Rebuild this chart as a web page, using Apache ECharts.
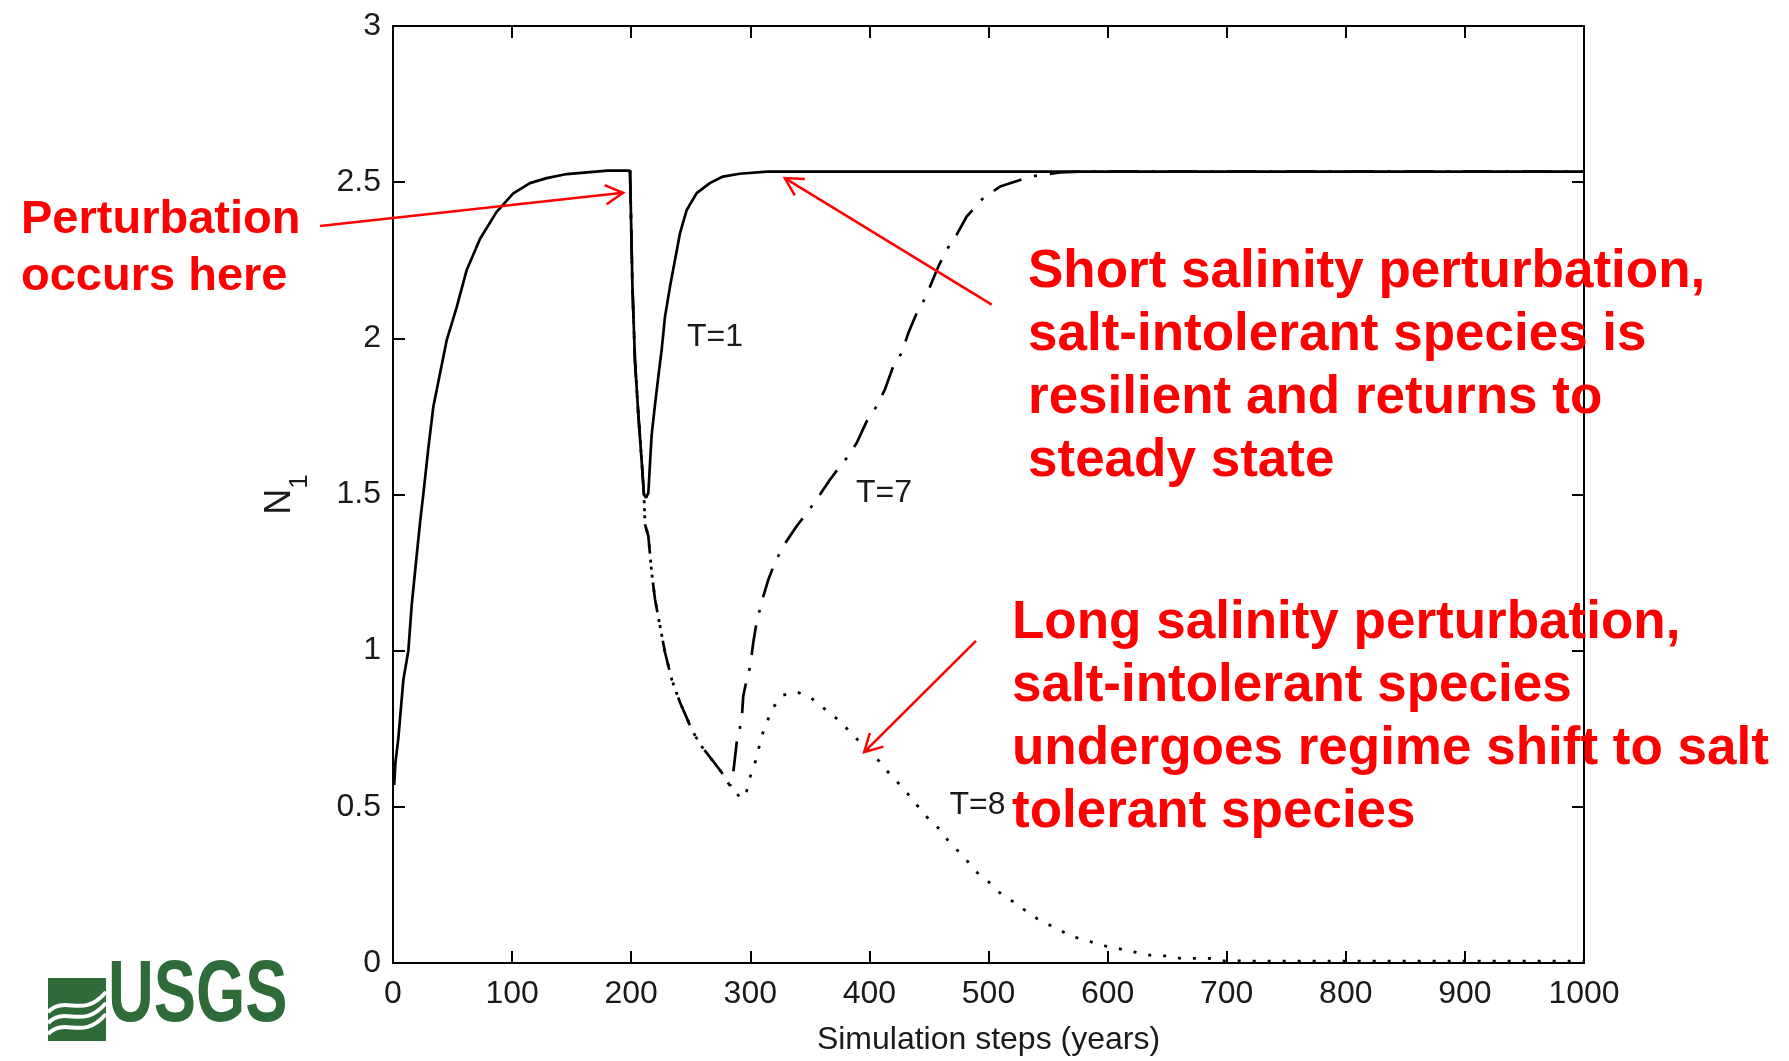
<!DOCTYPE html>
<html><head><meta charset="utf-8">
<script src="https://cdn.jsdelivr.net/npm/echarts@6/dist/echarts.min.js"></script>
<style>html,body{margin:0;padding:0;background:#fff}#c{width:1789px;height:1061px}</style>
</head><body><div id="c"></div>
<script>
// ---- data ----
const initX = [1, 2, 4.5, 8.7, 12.9, 15.7, 18.5, 22.7, 25.5, 29.7, 33.9, 39.5, 45.1, 53.5, 61.9, 73, 87, 101, 115, 129, 146, 180, 199];
const initY = [0.57, 0.64, 0.72, 0.907, 1.0, 1.146, 1.252, 1.41, 1.503, 1.649, 1.782, 1.888, 1.994, 2.1, 2.219, 2.318, 2.405, 2.464, 2.497, 2.513, 2.526, 2.537, 2.537];

const t1X = [199, 199.5, 201, 203.2, 206, 208.8, 210.7, 212.5, 214.4, 215.8, 217.2, 220, 222.8, 225.6, 228.4, 232.6, 236.8, 241, 246.6, 255, 266, 277, 291, 314, 1000];
const t1Y = [2.537, 2.449, 2.171, 1.926, 1.756, 1.607, 1.5, 1.49, 1.505, 1.601, 1.692, 1.788, 1.878, 1.964, 2.07, 2.166, 2.252, 2.337, 2.411, 2.465, 2.497, 2.518, 2.527, 2.534, 2.534];

const dropX = [199, 199.5, 201, 203.2, 206, 208.8, 210.7, 211.6, 214.4, 217.2, 220, 224.2, 228.4, 234, 241, 250.8, 257.8, 267.6, 276, 283];
const dropY = [2.537, 2.449, 2.171, 1.926, 1.756, 1.607, 1.5, 1.404, 1.367, 1.249, 1.164, 1.079, 0.994, 0.908, 0.834, 0.748, 0.70, 0.652, 0.61, 0.567];

const t7X = [284.4, 285.7, 288.6, 292.8, 294.1, 297, 299.7, 302.5, 304.8, 306.8, 311, 315.2, 320.7, 327.7, 339, 348.7, 358.5, 367, 371.1, 381, 389.3, 397.7, 406, 413, 420, 427, 432.7, 439.7, 445.3, 450.9, 457.9, 465, 473.3, 481.7, 495.6, 509.7, 526.5, 539, 560, 580, 1000];
const t7Y = [0.572, 0.61, 0.706, 0.78, 0.855, 0.908, 0.946, 1.026, 1.079, 1.114, 1.175, 1.228, 1.282, 1.335, 1.399, 1.447, 1.5, 1.548, 1.569, 1.617, 1.665, 1.734, 1.782, 1.836, 1.91, 1.953, 2.017, 2.081, 2.118, 2.166, 2.23, 2.284, 2.332, 2.39, 2.449, 2.486, 2.507, 2.52, 2.531, 2.534, 2.534];

const t8X = [288, 292.8, 297, 299.7, 303.9, 306.8, 309.6, 313.8, 318.5, 327.2, 339, 350.7, 361.9, 373.4, 385.1, 396.3, 408, 417.3, 428.5, 437.7, 447.3, 458.7, 467.7, 479.4, 488.7, 499.8, 511.6, 523.1, 534.8, 546, 557.8, 569, 581, 592.2, 603.9, 615.5, 626.6, 638.4, 649.6, 661.4, 673, 684.8, 696, 720, 800, 900, 1000];
const t8Y = [0.545, 0.525, 0.551, 0.594, 0.64, 0.682, 0.727, 0.77, 0.815, 0.857, 0.868, 0.85, 0.815, 0.78, 0.735, 0.69, 0.647, 0.604, 0.559, 0.516, 0.471, 0.429, 0.384, 0.34, 0.295, 0.261, 0.217, 0.191, 0.156, 0.13, 0.111, 0.085, 0.075, 0.059, 0.05, 0.041, 0.032, 0.023, 0.023, 0.015, 0.015, 0.015, 0.007, 0.006, 0.006, 0.006, 0.006];

const curveLabels = [{text: 'T=1', x: 270.4, y: 2.005}, {text: 'T=7', x: 412.3, y: 1.503}, {text: 'T=8', x: 490.8, y: 0.504}];
// arrow [tailX, tailY, tipX, tipY] in data units
const arrows = [[-61.3, 2.36, 193.2, 2.466], [502.7, 2.108, 329, 2.513], [489.5, 1.031, 395.6, 0.675]];

const xName = 'Simulation steps (years)';
const noteLeft = 'Perturbation\noccurs here';
const noteShort = 'Short salinity perturbation,\nsalt-intolerant species is\nresilient and returns to\nsteady state';
const noteLong = 'Long salinity perturbation,\nsalt-intolerant species\nundergoes regime shift to salt\ntolerant species';

const zip = (a, b) => a.map((v, i) => [v, b[i]]);
const FONT = '"Liberation Sans", Arial, sans-serif';
const INK = '#1a1a1a';

const chart = echarts.init(document.getElementById('c'), null, {renderer: 'canvas'});
const axisCommon = {
  axisLine: {show: true, onZero: false, lineStyle: {color: '#000', width: 2}},
  axisTick: {show: true, inside: true, length: 12, lineStyle: {color: '#000', width: 2}},
  splitLine: {show: false}
};
chart.setOption({
  animation: false,
  backgroundColor: '#fff',
  grid: {left: 393, right: 205, top: 26, bottom: 97, containLabel: false},
  xAxis: [
    Object.assign({type: 'value', min: 0, max: 1000, interval: 100, position: 'bottom',
      axisLabel: {fontSize: 32, color: INK, fontFamily: FONT, margin: 15, formatter: v => String(v)},
      name: xName, nameLocation: 'middle', nameGap: 61,
      nameTextStyle: {fontSize: 32, color: INK, fontFamily: FONT}}, axisCommon),
    Object.assign({type: 'value', min: 0, max: 1000, interval: 100, position: 'top',
      axisLabel: {show: false}}, axisCommon)
  ],
  yAxis: [
    Object.assign({type: 'value', min: 0, max: 3, interval: 0.5, position: 'left',
      axisLabel: {fontSize: 32, color: INK, fontFamily: FONT, margin: 12},
      name: '{n|N}{s|1}', nameLocation: 'middle', nameGap: 80, nameRotate: 90,
      nameTextStyle: {rich: {
        n: {fontSize: 36, color: INK, fontFamily: FONT},
        s: {fontSize: 26, color: INK, fontFamily: FONT, verticalAlign: 'bottom', padding: [40, 0, 0, 0]}
      }}}, axisCommon),
    Object.assign({type: 'value', min: 0, max: 3, interval: 0.5, position: 'right',
      axisLabel: {show: false}}, axisCommon)
  ],
  series: [
    {type: 'line', name: 'T=1', data: zip(initX, initY).concat(zip(t1X, t1Y)), showSymbol: false,
      lineStyle: {color: '#000', width: 2.7}, z: 5},
    {type: 'line', name: 'T=7', data: zip(dropX, dropY).concat(zip(t7X, t7Y)), showSymbol: false,
      lineStyle: {color: '#000', width: 2.7, type: [30, 13, 3, 13]}, z: 4},
    {type: 'line', name: 'T=8', data: zip(dropX, dropY).concat(zip(t8X, t8Y)), showSymbol: false,
      lineStyle: {color: '#000', width: 2.8, type: [3, 12]}, z: 3}
  ]
});

function px(v, y) { return chart.convertToPixel({gridIndex: 0}, [v, y]); }
const g = [];
const RED = '#ff0000';
arrows.forEach(a => {
  const p1 = px(a[0], a[1]), p2 = px(a[2], a[3]);
  const ang = Math.atan2(p2[1] - p1[1], p2[0] - p1[0]), L = 20, w = 0.5;
  g.push({type: 'line', shape: {x1: p1[0], y1: p1[1], x2: p2[0], y2: p2[1]}, style: {stroke: RED, lineWidth: 2.5}, z: 10});
  g.push({type: 'polyline', shape: {points: [
    [p2[0] - L * Math.cos(ang - w), p2[1] - L * Math.sin(ang - w)], p2,
    [p2[0] - L * Math.cos(ang + w), p2[1] - L * Math.sin(ang + w)]]},
    style: {stroke: RED, lineWidth: 2.5, fill: null}, z: 10});
});
curveLabels.forEach(l => {
  const p = px(l.x, l.y);
  g.push({type: 'text', x: p[0], y: p[1], style: {text: l.text, font: '32px ' + FONT, fill: INK, align: 'center', verticalAlign: 'middle'}, z: 10});
});
g.push({type: 'text', x: 21, y: 192, style: {text: noteLeft, font: 'bold 47px ' + FONT, fill: RED, lineHeight: 57}, z: 10});
g.push({type: 'text', x: 1028, y: 241, style: {text: noteShort, font: 'bold 53px ' + FONT, fill: RED, lineHeight: 63}, z: 10});
g.push({type: 'text', x: 1012, y: 592, style: {text: noteLong, font: 'bold 53px ' + FONT, fill: RED, lineHeight: 63}, z: 10});
// USGS logo
const GREEN = '#2e6b38';
g.push({type: 'rect', shape: {x: 48, y: 978, width: 58, height: 63}, style: {fill: GREEN}});
[0, 1, 2].forEach(i => {
  const y0 = 1012 + i * 11;
  g.push({type: 'bezierCurve', shape: {x1: 48, y1: y0, cpx1: 66, cpy1: y0 - 18, cpx2: 82, cpy2: y0 + 8, x2: 106, y2: y0 - 20},
    style: {stroke: '#fff', lineWidth: 4, fill: null}});
});
g.push({type: 'text', x: 108, y: 1041, scaleX: 0.72, style: {text: 'USGS', font: 'bold 88px ' + FONT, fill: GREEN, verticalAlign: 'bottom'}});
chart.setOption({graphic: g});
</script>
</body></html>
